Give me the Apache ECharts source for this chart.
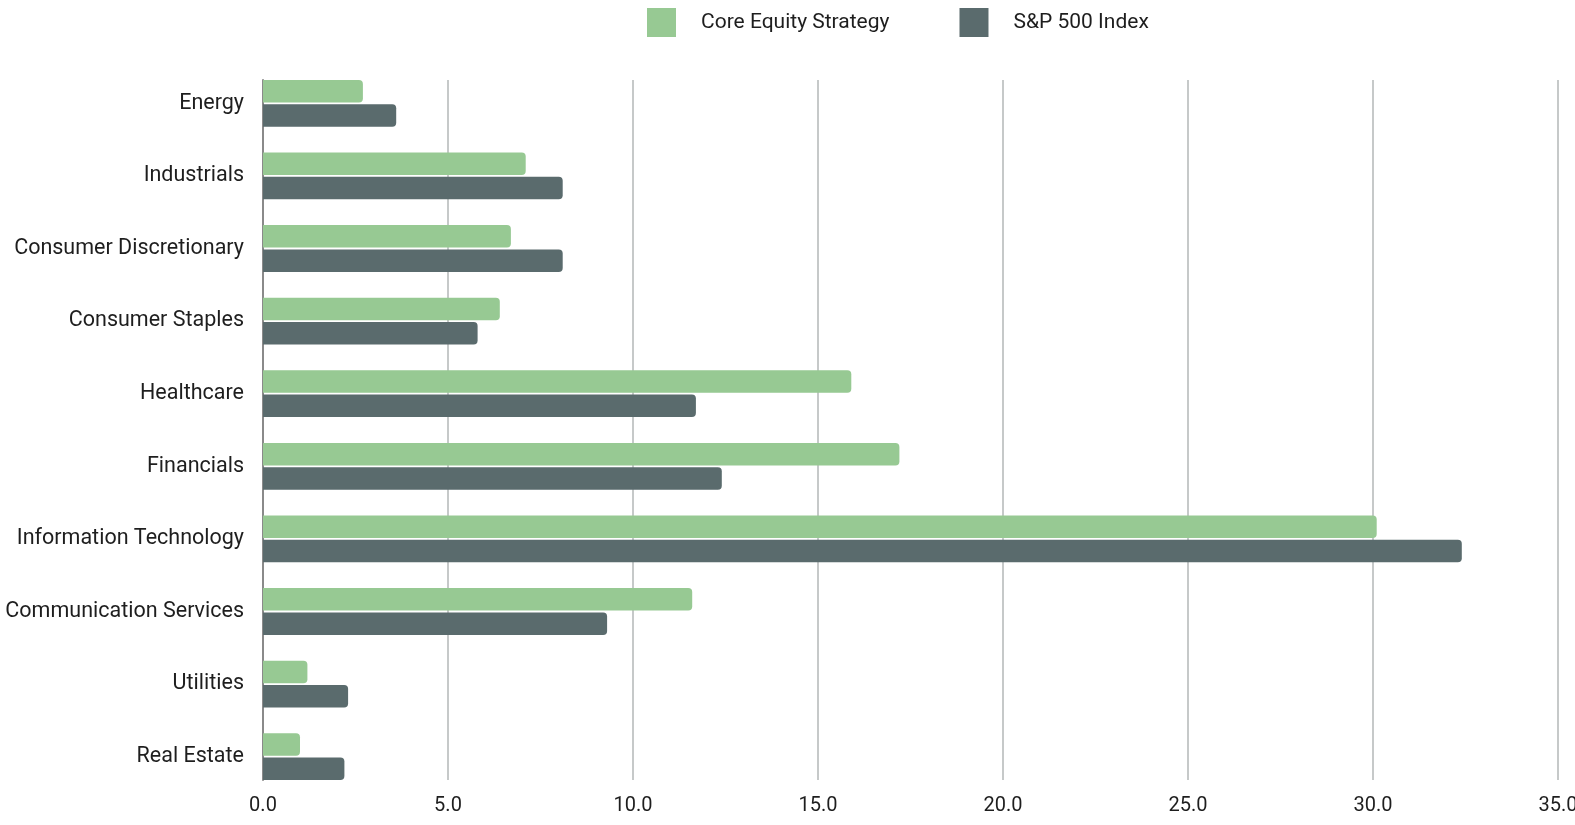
<!DOCTYPE html>
<html>
<head>
<meta charset="utf-8">
<title>Sector Weights</title>
<script src="https://cdn.jsdelivr.net/npm/echarts@6/dist/echarts.min.js"></script>
<style>
	html, body {
		margin: 0;
		padding: 0;
		background: #ffffff;
	}
	#main {
		width: 1575px;
		height: 825px;
	}
</style>
</head>
<body>
<div id="main"></div>
<script>
var sectors = ['Energy', 'Industrials', 'Consumer Discretionary', 'Consumer Staples', 'Healthcare',
	'Financials', 'Information Technology', 'Communication Services', 'Utilities', 'Real Estate'];
var coreEquity = [2.7, 7.1, 6.7, 6.4, 15.9, 17.2, 30.1, 11.6, 1.2, 1.0];
var sp500 = [3.6, 8.1, 8.1, 5.8, 11.7, 12.4, 32.4, 9.3, 2.3, 2.2];
var seriesNames = ['Core Equity Strategy', 'S&P 500 Index'];
var seriesColors = ['#97c993', '#5a6b6d'];

var fontName = "Roboto, sans-serif";

function makeBar(name, data, color) {
	return {
		name: name,
		type: 'bar',
		xAxisIndex: 0,
		yAxisIndex: 0,
		data: data,
		barWidth: 22.5,
		barGap: '8%',
		itemStyle: {
			color: color,
			borderRadius: [0, 4, 4, 0]
		}
	};
}

function initChart(even) {
	var mychart = echarts.init(even);
	var option = {
		animation: false,
		textStyle: {
			fontFamily: fontName
		},
		legend: {
			top: 8,
			left: 647,
			padding: 0,
			itemWidth: 29,
			itemHeight: 29,
			itemGap: 70,
			icon: 'rect',
			data: seriesNames,
			textStyle: {
				fontFamily: fontName,
				fontSize: 21,
				color: '#1e1e1e',
				padding: [0, 0, 0, 20]
			}
		},
		// grid 0 holds the bars, grid 1 only the gridlines / zero line
		grid: [{
			left: 263,
			right: 17,
			top: 67,
			bottom: 32,
			outerBoundsMode: 'none'
		}, {
			left: 263,
			right: 17,
			top: 80,
			bottom: 45,
			outerBoundsMode: 'none'
		}],
		xAxis: [{
			gridIndex: 0,
			type: 'value',
			min: 0,
			max: 35,
			interval: 5,
			show: false
		}, {
			gridIndex: 1,
			type: 'value',
			min: 0,
			max: 35,
			interval: 5,
			axisLine: { show: false },
			axisTick: { show: false },
			axisLabel: {
				margin: 16,
				fontSize: 20,
				fontFamily: fontName,
				color: '#1e1e1e',
				formatter: function(v) {
					return v.toFixed(1);
				}
			},
			splitLine: {
				lineStyle: {
					color: '#c6c9c9',
					width: 2
				}
			}
		}],
		yAxis: [{
			gridIndex: 0,
			type: 'category',
			inverse: true,
			data: sectors,
			axisLine: { show: false },
			axisTick: { show: false },
			axisLabel: {
				margin: 19,
				fontSize: 21.5,
				fontFamily: fontName,
				color: '#1e1e1e'
			}
		}, {
			gridIndex: 1,
			type: 'value',
			min: 0,
			max: 1,
			axisLine: {
				show: true,
				lineStyle: {
					color: '#8a8a8a',
					width: 2
				}
			},
			axisTick: { show: false },
			axisLabel: { show: false },
			splitLine: { show: false }
		}],
		series: [
			makeBar(seriesNames[0], coreEquity, seriesColors[0]),
			makeBar(seriesNames[1], sp500, seriesColors[1])
		]
	};
	mychart.setOption(option);
	return mychart;
}

initChart(document.getElementById('main'));
</script>
</body>
</html>
